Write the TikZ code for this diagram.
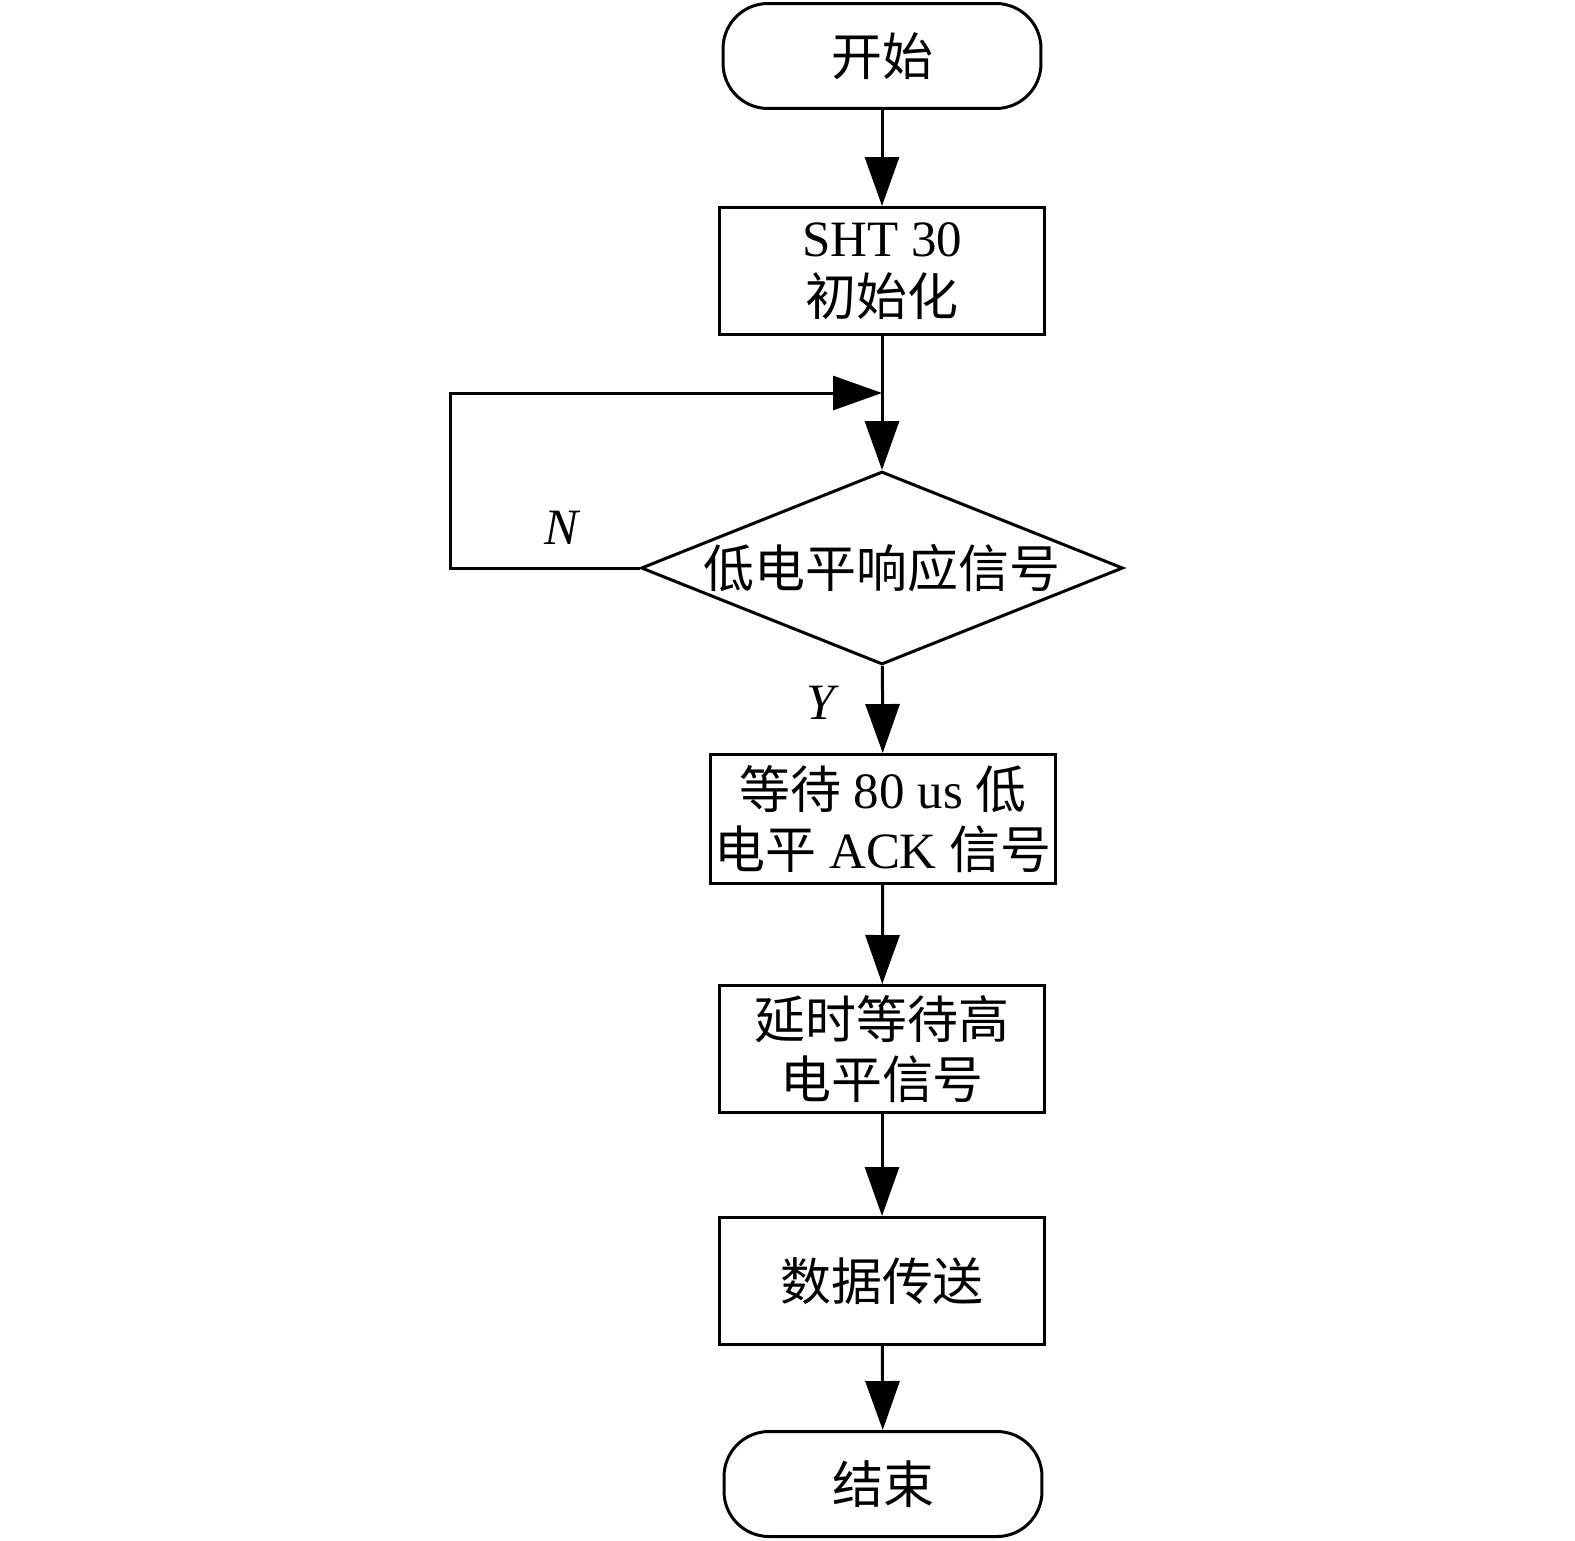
\documentclass[tikz,border=0pt]{standalone}
\usepackage{fontspec}
\setmainfont{Liberation Serif}
\newfontfamily\cjk{Noto Sans CJK SC}
\usepackage{tikz}
\usetikzlibrary{arrows.meta,shapes.geometric}

\begin{document}
\begin{tikzpicture}[x=0.02cm, y=-0.02cm, line width=0.06cm,
	font=\fontsize{29}{34}\selectfont,
	terminal/.style = {draw, rectangle, rounded corners=0.9cm, minimum width=6.36cm, minimum height=2.1cm, inner sep=0},
	process/.style = {draw, rectangle, minimum width=6.52cm, minimum height=2.54cm, inner sep=0, align=center},
	decision/.style = {draw, diamond, aspect=2.5, minimum width=9.64cm, minimum height=3.86cm, inner sep=-2pt},
	flow/.style = {-{Triangle[length=0.98cm, width=0.68cm]}}]
	\useasboundingbox (0,0) rectangle (1575,1541);
	\node (start) at (882,56) [terminal] {\cjk 开始};
	\node (init) at (882,271) [process] {SHT 30\\{\cjk 初始化}};
	\coordinate (merge) at (882,393);
	\node (check) at (882,568) [decision] {\cjk 低电平响应信号};
	\node (ack) at (883,819) [process, minimum width=6.92cm, minimum height=2.58cm] {{\cjk 等待} 80 us {\cjk 低}\\{\cjk 电平} ACK {\cjk 信号}};
	\node (wait) at (882,1049) [process] {\cjk 延时等待高\\\cjk 电平信号};
	\node (data) at (882,1281) [process] {\cjk 数据传送};
	\node (stop) at (883,1484) [terminal] {\cjk 结束};
	\node (no) at (563,528) {\textit{N}};
	\node (yes) at (823,703) {\textit{Y}};
	\draw[flow] (start) -- (init);
	\draw[flow] (init) -- (check);
	\draw[flow] (check.west) -- ++(-189,0) |- (merge);
	\draw[flow] (check) -- (ack);
	\draw[flow] (ack) -- (wait);
	\draw[flow] (wait) -- (data);
	\draw[flow] (data) -- (stop);
\end{tikzpicture}
\end{document}
